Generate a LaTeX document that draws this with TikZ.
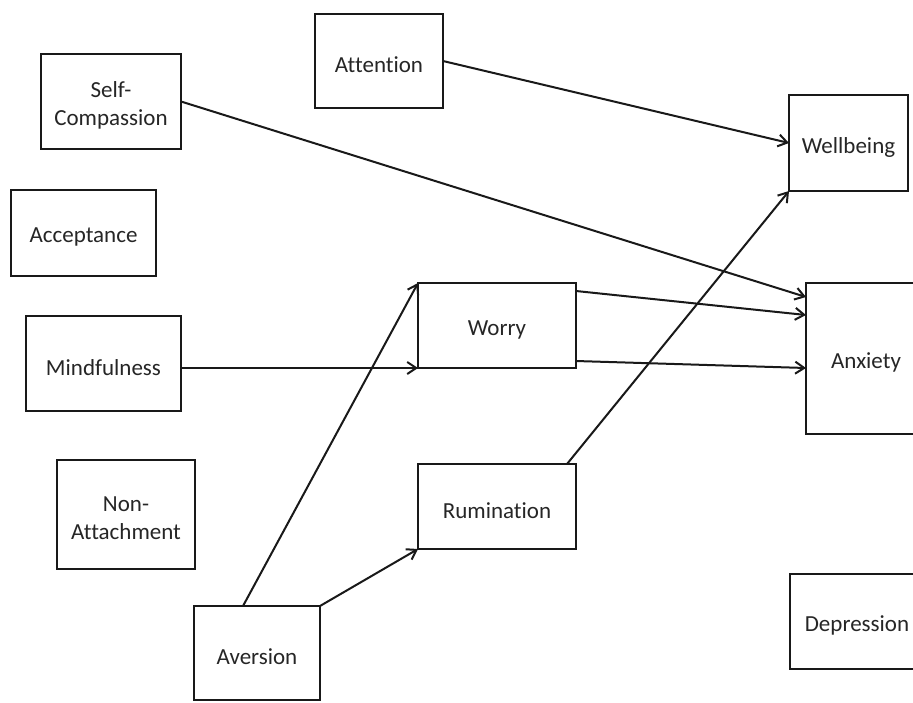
\documentclass[tikz,border=0pt]{standalone}
\usepackage{fontspec}
\setmainfont{Carlito}[Ligatures=CommonOff]
\usetikzlibrary{arrows.meta}
\begin{document}
\begin{tikzpicture}[x=1pt,y=-1pt,
  box/.style={draw=black!90, line width=2.4pt, rectangle, inner sep=0pt, outer sep=0pt},
  txt/.style={text=black!85, align=center, inner sep=0pt, yshift=-4pt,
    font=\fontsize{23}{28}\selectfont},
  link/.style={draw=black!90, line width=2pt, -{Straight Barb[length=9pt,width=12pt,line width=2pt]}}
]
\useasboundingbox (0,0) rectangle (913,702);
\clip (0,0) rectangle (913,702);
\fill[white] (0,0) rectangle (913,702);

% construct boxes, each with its name set in the middle
\node[box, minimum width=140pt, minimum height=95pt, label={[txt]center:Self-\\Compassion}] (sc) at (111,101.5) {};
\node[box, minimum width=128pt, minimum height=94pt, label={[txt]center:Attention}] (att) at (379,61) {};
\node[box, minimum width=145pt, minimum height=86pt, label={[txt]center:Acceptance}] (acc) at (83.5,233) {};
\node[box, minimum width=155pt, minimum height=95pt, label={[txt]center:Mindfulness}] (mnd) at (103.5,363.5) {};
\node[box, minimum width=138pt, minimum height=109pt, label={[txt]center:Non-\\Attachment}] (nat) at (126,514.5) {};
\node[box, minimum width=126pt, minimum height=94pt, label={[txt]center:Aversion}] (avr) at (257,653) {};
\node[box, minimum width=158pt, minimum height=85pt, label={[txt]center:Worry}] (wor) at (497,325.5) {};
\node[box, minimum width=158pt, minimum height=85pt, label={[txt]center:Rumination}] (rum) at (497,506.5) {};
\node[box, minimum width=119pt, minimum height=96pt, label={[txt]center:Wellbeing}] (wel) at (848.5,143) {};
\node[box, minimum width=120pt, minimum height=151pt, label={[txt]center:Anxiety}] (anx) at (866,358.5) {};
\node[box, minimum width=134pt, minimum height=95pt, label={[txt]center:Depression}] (dep) at (857,621.5) {};

% paths between constructs
\draw[link] (att.east) -- (wel.west);
\draw[link] (sc.east) -- ([yshift=-14pt]anx.north west);
\draw[link] ([yshift=-8pt]wor.north east) -- ([yshift=-32pt]anx.north west);
\draw[link] ([yshift=7pt]wor.south east) -- ([yshift=-85pt]anx.north west);
\draw[link] (mnd.east |- wor.south west) -- (wor.south west);
\draw[link] ([xshift=-14pt]avr.north) -- (wor.north west);
\draw[link] (avr.north east) -- (rum.south west);
\draw[link] ([xshift=-9pt]rum.north east) -- (wel.south west);
\end{tikzpicture}
\end{document}
